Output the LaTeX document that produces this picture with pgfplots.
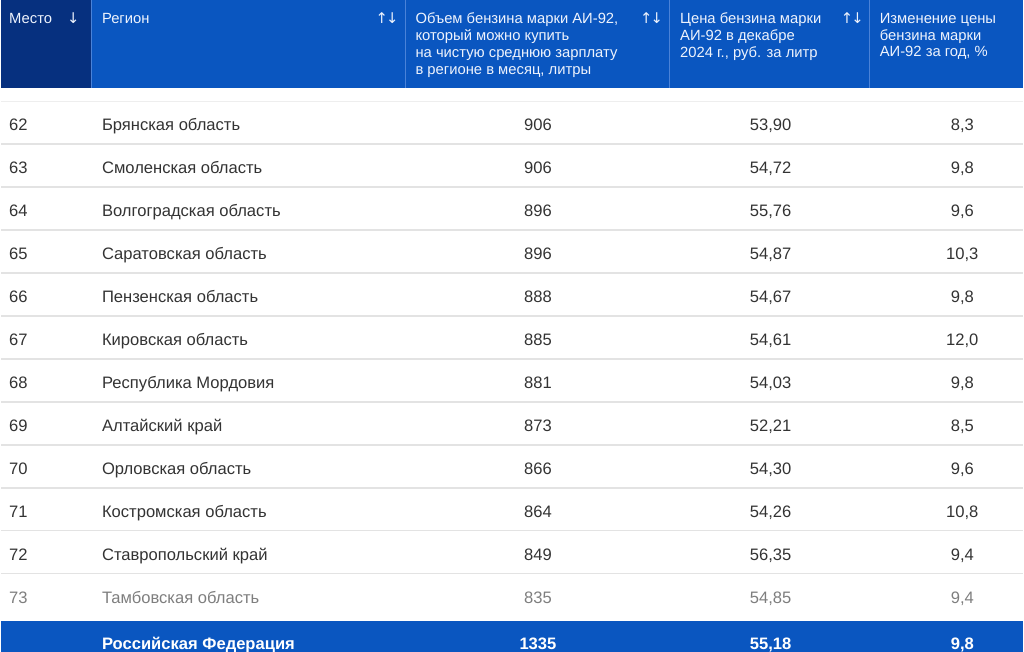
\documentclass[border=0pt]{standalone}
\usepackage{pgfplots}
\pgfplotsset{compat=1.18}
\usepackage{pgfplotstable}
\usepackage{fontspec}
\setmainfont{Liberation Sans}
\newfontfamily\arrowfont{DejaVu Sans}
\definecolor{hdrdark}{HTML}{06307F}
\definecolor{hdr}{HTML}{0A56C0}
\definecolor{hdrline}{HTML}{4A82D8}
\definecolor{rowrule}{HTML}{E3E3E3}
\definecolor{txt}{HTML}{333333}
\definecolor{fade}{HTML}{7E7E7E}
\definecolor{hdrtxt}{HTML}{EEF3FD}

\pgfplotstableread[col sep=semicolon]{
rank;region;litres;price;change
62;Брянская область;906;53,90;8,3
63;Смоленская область;906;54,72;9,8
64;Волгоградская область;896;55,76;9,6
65;Саратовская область;896;54,87;10,3
66;Пензенская область;888;54,67;9,8
67;Кировская область;885;54,61;12,0
68;Республика Мордовия;881;54,03;9,8
69;Алтайский край;873;52,21;8,5
70;Орловская область;866;54,30;9,6
71;Костромская область;864;54,26;10,8
72;Ставропольский край;849;56,35;9,4
}\maintab
\pgfplotstableread[col sep=semicolon]{
rank;region;litres;price;change
73;Тамбовская область;835;54,85;9,4
}\fadetab
\pgfplotstableread[col sep=semicolon]{
region;litres;price;change
Российская Федерация;1335;55,18;9,8
}\totaltab

\newcommand{\rowfont}{\fontsize{8.3}{10}\selectfont}
\newcommand{\hdrfont}{\fontsize{7.4}{8.5}\selectfont}

\pgfplotsset{
  cell/.style={draw=none, mark=none, nodes near coords, point meta=explicit symbolic,
    nodes near coords align=center,
    every node near coord/.append style={inner sep=0pt, font=\rowfont, text=#1,
      text height=1.45ex, text depth=0ex}},
  lcell/.style={cell=#1, every node near coord/.append style={anchor=west}},
  ccell/.style={cell=#1, every node near coord/.append style={anchor=center}},
}

\begin{document}
\begin{tikzpicture}
\begin{axis}[
  scale only axis, width=512pt, height=326pt,
  xmin=0, xmax=1024, ymin=0, ymax=652, y dir=reverse,
  hide axis, clip=false,
]
% header background
\fill[hdrdark] (axis cs:0,0) rectangle (axis cs:91,88);
\fill[hdr] (axis cs:91,0) rectangle (axis cs:1024,88);
\draw[hdrline, line width=0.5pt] (axis cs:91,0) -- (axis cs:91,88);
\draw[hdrline, line width=0.5pt] (axis cs:405,0) -- (axis cs:405,88);
\draw[hdrline, line width=0.5pt] (axis cs:670,0) -- (axis cs:670,88);
\draw[hdrline, line width=0.5pt] (axis cs:870,0) -- (axis cs:870,88);
% row rules
\draw[rowrule!60, line width=0.8pt] (axis cs:0,101) -- (axis cs:1024,101);
\draw[rowrule, line width=0.8pt] (axis cs:0,144) -- (axis cs:1024,144);
\draw[rowrule, line width=0.8pt] (axis cs:0,187) -- (axis cs:1024,187);
\draw[rowrule, line width=0.8pt] (axis cs:0,230) -- (axis cs:1024,230);
\draw[rowrule, line width=0.8pt] (axis cs:0,273) -- (axis cs:1024,273);
\draw[rowrule, line width=0.8pt] (axis cs:0,316) -- (axis cs:1024,316);
\draw[rowrule, line width=0.8pt] (axis cs:0,359) -- (axis cs:1024,359);
\draw[rowrule, line width=0.8pt] (axis cs:0,402) -- (axis cs:1024,402);
\draw[rowrule, line width=0.8pt] (axis cs:0,445) -- (axis cs:1024,445);
\draw[rowrule, line width=0.8pt] (axis cs:0,488) -- (axis cs:1024,488);
\draw[rowrule, line width=0.8pt] (axis cs:0,531) -- (axis cs:1024,531);
\draw[rowrule, line width=0.8pt] (axis cs:0,574) -- (axis cs:1024,574);
% footer background
\fill[hdr] (axis cs:0,621) rectangle (axis cs:1024,652);

% header text
\node[anchor=north west, inner sep=0pt, font=\hdrfont, text=hdrtxt, align=left] at (axis cs:8,12) {Место};
\node[anchor=north west, inner sep=0pt, font=\hdrfont\arrowfont, text=hdrtxt] at (axis cs:66,12) {↓};
\node[anchor=north west, inner sep=0pt, font=\hdrfont, text=hdrtxt, align=left] at (axis cs:101,12) {Регион};
\node[anchor=north west, inner sep=0pt, font=\hdrfont\arrowfont, text=hdrtxt] at (axis cs:375,12) {↑\kern-1pt↓};
\node[anchor=north west, inner sep=0pt, font=\hdrfont, text=hdrtxt, align=left] at (axis cs:415,12)
  {Объем бензина марки АИ-92,\\который можно купить\\на чистую среднюю зарплату\\в регионе в месяц, литры};
\node[anchor=north west, inner sep=0pt, font=\hdrfont\arrowfont, text=hdrtxt] at (axis cs:640,12) {↑\kern-1pt↓};
\node[anchor=north west, inner sep=0pt, font=\hdrfont, text=hdrtxt, align=left] at (axis cs:680,12)
  {Цена бензина марки\\АИ-92 в декабре\\2024 г., руб. за литр};
\node[anchor=north west, inner sep=0pt, font=\hdrfont\arrowfont, text=hdrtxt] at (axis cs:841,12) {↑\kern-1pt↓};
\node[anchor=north west, inner sep=0pt, font=\hdrfont, text=hdrtxt, align=left] at (axis cs:880,12)
  {Изменение цены\\бензина марки\\АИ-92 за год, \%};

% body rows
\addplot[lcell=txt] table[x expr=8, y expr={123+43*(\thisrow{rank}-62)}, meta=rank] {\maintab};
\addplot[lcell=txt] table[x expr=101, y expr={123+43*(\thisrow{rank}-62)}, meta=region] {\maintab};
\addplot[ccell=txt] table[x expr=538, y expr={123+43*(\thisrow{rank}-62)}, meta=litres] {\maintab};
\addplot[ccell=txt] table[x expr=771, y expr={123+43*(\thisrow{rank}-62)}, meta=price] {\maintab};
\addplot[ccell=txt] table[x expr=963, y expr={123+43*(\thisrow{rank}-62)}, meta=change] {\maintab};

\addplot[lcell=fade] table[x expr=8, y expr={123+43*(\thisrow{rank}-62)}, meta=rank] {\fadetab};
\addplot[lcell=fade] table[x expr=101, y expr={123+43*(\thisrow{rank}-62)}, meta=region] {\fadetab};
\addplot[ccell=fade] table[x expr=538, y expr={123+43*(\thisrow{rank}-62)}, meta=litres] {\fadetab};
\addplot[ccell=fade] table[x expr=771, y expr={123+43*(\thisrow{rank}-62)}, meta=price] {\fadetab};
\addplot[ccell=fade] table[x expr=963, y expr={123+43*(\thisrow{rank}-62)}, meta=change] {\fadetab};

% total row
\addplot[lcell=white, every node near coord/.append style={font=\rowfont\bfseries}] table[x expr=101, y expr=642, meta=region] {\totaltab};
\addplot[ccell=white, every node near coord/.append style={font=\rowfont\bfseries}] table[x expr=538, y expr=642, meta=litres] {\totaltab};
\addplot[ccell=white, every node near coord/.append style={font=\rowfont\bfseries}] table[x expr=771, y expr=642, meta=price] {\totaltab};
\addplot[ccell=white, every node near coord/.append style={font=\rowfont\bfseries}] table[x expr=963, y expr=642, meta=change] {\totaltab};
\end{axis}
\end{tikzpicture}
\end{document}
